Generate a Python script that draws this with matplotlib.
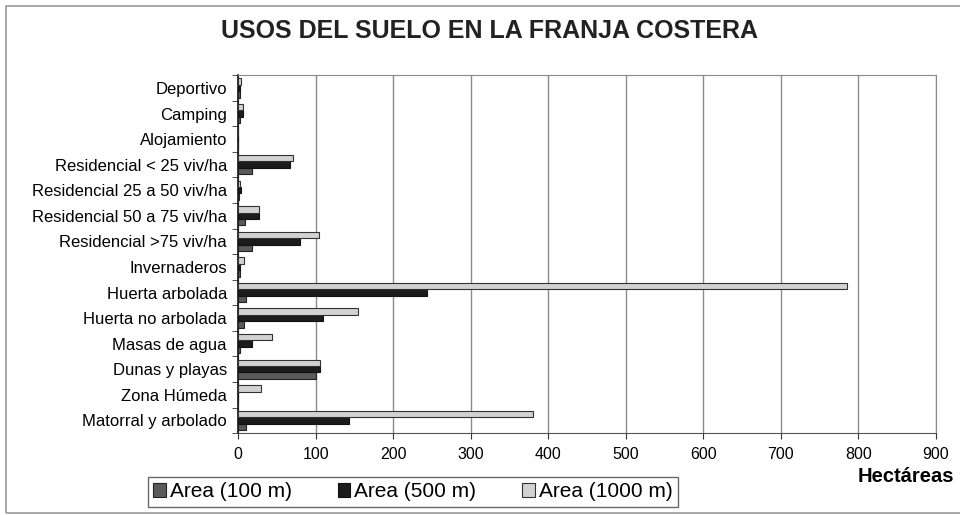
import matplotlib.pyplot as plt
import matplotlib.patches as mpatches
import numpy as np

plt.rcParams['font.family'] = ['Liberation Sans', 'DejaVu Sans']

categorias = ["Deportivo", "Camping", "Alojamiento", "Residencial < 25 viv/ha",
              "Residencial 25 a 50 viv/ha", "Residencial 50 a 75 viv/ha",
              "Residencial >75 viv/ha", "Invernaderos", "Huerta arbolada",
              "Huerta no arbolada", "Masas de agua", "Dunas y playas",
              "Zona Húmeda", "Matorral y arbolado"]
area_100 = [2, 3, 0, 18, 1, 9, 18, 2, 10, 8, 2, 100, 0, 10]
area_500 = [3, 6, 0, 67, 4, 27, 80, 3, 243, 110, 18, 105, 0, 143]
area_1000 = [4, 6, 0, 71, 3, 27, 104, 7, 785, 155, 44, 105, 30, 380]
series = ["Area (100 m)", "Area (500 m)", "Area (1000 m)"]
ticks_x = [0, 100, 200, 300, 400, 500, 600, 700, 800, 900]

fig = plt.figure(figsize=(9.6, 5.15), dpi=100)
# outer chart frame
fig.patches.append(mpatches.Rectangle((0.006, 0.004), 1.2, 0.985, transform=fig.transFigure,
                                      fill=False, edgecolor='#9a9a9a', linewidth=1.2))

ax = fig.add_axes([0.248, 0.159, 0.727, 0.695])
y = np.arange(len(categorias))
h = 0.25
ax.barh(y + h, area_100, height=h, color='#5a5a5a', edgecolor='#222222', linewidth=0.8, label=series[0], zorder=3)
ax.barh(y, area_500, height=h, color='#1c1c1c', edgecolor='#111111', linewidth=0.8, label=series[1], zorder=3)
ax.barh(y - h, area_1000, height=h, color='#d2d2d2', edgecolor='#333333', linewidth=0.8, label=series[2], zorder=3)

ax.set_xlim(0, 900)
ax.set_ylim(len(categorias) - 0.5, -0.5)
ax.set_xticks(ticks_x)
ax.tick_params(axis='x', labelsize=11.5, length=4, direction='out', color='#333333', pad=6)
ax.set_yticks(y)
ax.set_yticklabels(categorias, fontsize=12)
ax.set_yticks(np.arange(len(categorias) + 1) - 0.5, minor=True)
ax.tick_params(axis='y', which='major', length=0, pad=8)
ax.tick_params(axis='y', which='minor', length=4, direction='out', color='#333333')
ax.grid(axis='x', color='#8a8a8a', linewidth=1.0, zorder=0)

ax.spines['left'].set_color('#111111')
ax.spines['left'].set_linewidth(1.2)
ax.spines['bottom'].set_color('#555555')
ax.spines['top'].set_color('#8a8a8a')
ax.spines['right'].set_color('#8a8a8a')

fig.text(0.51, 0.94, "USOS DEL SUELO EN LA FRANJA COSTERA", ha='center', va='center',
         fontsize=18, fontweight='bold', color='#222222')
fig.text(0.893, 0.075, "Hectáreas", ha='left', va='center', fontsize=14.5, fontweight='bold')

leg = fig.legend(loc='center', bbox_to_anchor=(0.43, 0.045), ncol=3, fontsize=15,
                 frameon=True, fancybox=False, edgecolor='#444444', handlelength=0.6,
                 handleheight=0.6, handletextpad=0.2, columnspacing=2.2, borderpad=0.25)
leg.get_frame().set_linewidth(1.0)

fig.savefig("out.png", dpi=100)
